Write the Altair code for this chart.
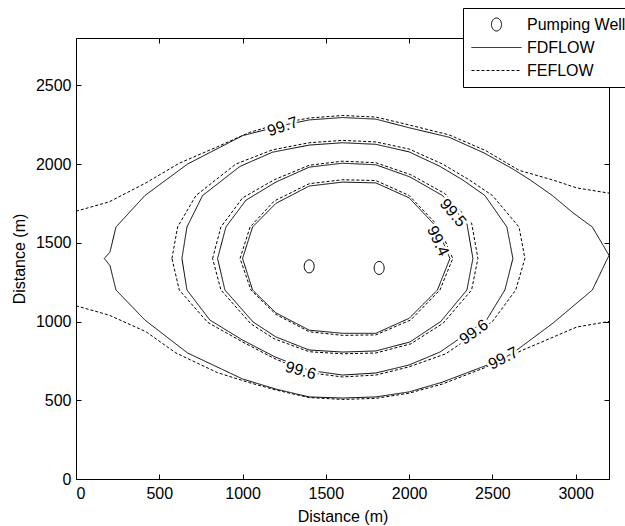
import altair as alt
import pandas as pd

FONT = "Liberation Sans"
FS = 16

X_DOMAIN = [0, 3200]
Y_DOMAIN = [0, 2800]
X_TICKS = [0, 500, 1000, 1500, 2000, 2500, 3000]
Y_TICKS = [0, 500, 1000, 1500, 2000, 2500]

SERIES = ["Pumping Well", "FDFLOW", "FEFLOW"]

# pumping wells
WELL_X = [1400, 1820]
WELL_Y = [1350, 1340]

# FDFLOW contours (solid)
FD_994 = [(1000, 1400), (1060, 1600), (1200, 1750), (1400, 1860), (1600, 1885), (1800, 1880),
          (2000, 1785), (2165, 1600), (2245, 1400), (2170, 1200), (2000, 1020), (1800, 925),
          (1600, 925), (1400, 945), (1200, 1055), (1060, 1200), (1000, 1400)]
FD_995 = [(850, 1400), (900, 1600), (1020, 1770), (1200, 1885), (1400, 1980), (1600, 2005),
          (1800, 1995), (2005, 1918), (2200, 1800), (2347, 1620), (2383, 1400), (2347, 1200),
          (2190, 1000), (2005, 870), (1800, 813), (1600, 806), (1400, 819), (1200, 902),
          (1063, 997), (894, 1200), (850, 1400)]
FD_996 = [(636, 1400), (666, 1600), (760, 1800), (985, 1985), (1180, 2075), (1400, 2120),
          (1600, 2135), (1800, 2125), (2000, 2077), (2185, 1985), (2320, 1900), (2455, 1800),
          (2587, 1600), (2623, 1400), (2575, 1200), (2465, 1010), (2185, 806), (2000, 724),
          (1800, 673), (1600, 660), (1400, 690), (1195, 775), (1000, 882), (804, 1009),
          (666, 1200), (636, 1400)]
FD_997 = [(170, 1400), (204, 1441), (240, 1600), (414, 1800), (670, 2000), (1000, 2180),
          (1240, 2245), (1400, 2280), (1600, 2295), (1800, 2285), (2000, 2230), (2240, 2170),
          (2450, 2070), (2620, 1970), (2725, 1900), (2860, 1800), (2984, 1690), (3100, 1600),
          (3200, 1420), (3100, 1200), (2864, 990), (2647, 819), (2560, 760), (2200, 615),
          (2000, 553), (1800, 521), (1600, 514), (1400, 521), (1200, 571), (1000, 635),
          (670, 800), (414, 1009), (240, 1200), (204, 1355), (170, 1400)]

# FEFLOW contours (dashed)
FE_994 = [(985, 1400), (1045, 1600), (1190, 1765), (1400, 1875), (1600, 1900), (1800, 1895),
          (2000, 1800), (2180, 1600), (2262, 1400), (2185, 1200), (2010, 1010), (1800, 915),
          (1600, 912), (1400, 935), (1200, 1045), (1050, 1200), (985, 1400)]
FE_995 = [(820, 1400), (870, 1600), (1000, 1785), (1190, 1900), (1400, 1992), (1600, 2018),
          (1800, 2008), (2010, 1932), (2215, 1812), (2375, 1625), (2413, 1400), (2375, 1200),
          (2205, 990), (2010, 858), (1800, 800), (1600, 795), (1400, 808), (1190, 890),
          (1050, 985), (870, 1200), (820, 1400)]
FE_996 = [(576, 1400), (610, 1600), (720, 1800), (960, 2000), (1180, 2090), (1400, 2135),
          (1600, 2150), (1800, 2140), (2000, 2095), (2200, 2000), (2360, 1900), (2500, 1800),
          (2660, 1600), (2695, 1400), (2640, 1200), (2500, 1000), (2220, 795), (2000, 712),
          (1800, 660), (1600, 648), (1400, 675), (1195, 763), (1000, 870), (790, 995),
          (620, 1200), (576, 1400)]
FE_997_UPPER = [(0, 1700), (200, 1760), (420, 1880), (620, 2005), (850, 2110), (1040, 2200),
                (1240, 2262), (1400, 2292), (1600, 2308), (1800, 2298), (2000, 2248), (2240, 2185),
                (2460, 2085), (2660, 1960), (2864, 1898), (3007, 1848), (3200, 1815)]
FE_997_LOWER = [(0, 1100), (200, 1040), (420, 935), (600, 800), (850, 675), (1040, 612),
                (1200, 565), (1400, 517), (1600, 505), (1800, 512), (2000, 545), (2200, 603),
                (2450, 705), (2683, 819), (3007, 965), (3200, 1000)]

# contour labels
LABEL_TEXT = ["99.7", "99.5", "99.4", "99.6", "99.7", "99.6"]
LABEL_X = [1241, 2263, 2173, 2389, 2565, 1349]
LABEL_Y = [2237, 1689, 1511, 933, 766, 688]
LABEL_ANGLE = [341, 50, 65, 324, 333, 16]

# ---- build tables ----
contours = [
    ("FDFLOW", "fd994", FD_994), ("FDFLOW", "fd995", FD_995),
    ("FDFLOW", "fd996", FD_996), ("FDFLOW", "fd997", FD_997),
    ("FEFLOW", "fe994", FE_994), ("FEFLOW", "fe995", FE_995),
    ("FEFLOW", "fe996", FE_996), ("FEFLOW", "fe997u", FE_997_UPPER),
    ("FEFLOW", "fe997l", FE_997_LOWER),
]
rows = []
for series, seg, pts in contours:
    for i, (x, y) in enumerate(pts):
        rows.append({"series": series, "seg": seg, "ord": i, "x": x, "y": y})
lines_df = pd.DataFrame(rows)

wells_df = pd.DataFrame({"x": WELL_X, "y": WELL_Y, "series": "Pumping Well"})
labels_df = pd.DataFrame({"x": LABEL_X, "y": LABEL_Y, "text": LABEL_TEXT, "angle": LABEL_ANGLE})

ELLIPSE = "M0.2,0A0.2,0.26,0,1,1,-0.2,0A0.2,0.26,0,1,1,0.2,0Z"

xs = alt.Scale(domain=X_DOMAIN, nice=False, zero=False)
ys = alt.Scale(domain=Y_DOMAIN, nice=False, zero=False)

legend = alt.Legend(
    title=None, orient="none", legendX=387, legendY=-30,
    strokeColor="black", fillColor="white", padding=8,
    symbolSize=2500, symbolStrokeWidth=1, symbolStrokeColor="black",
    symbolFillColor="white", labelFont=FONT, labelFontSize=FS,
    labelColor="black", labelOffset=5, rowPadding=6, clipHeight=17, cornerRadius=0,
)

axis_common = dict(
    tickSize=5, offset=-5, domain=False, grid=False, tickColor="black", format="d",
    labelFont=FONT, labelFontSize=FS, labelColor="black",
    titleFont=FONT, titleFontSize=FS, titleFontWeight="normal", titleColor="black",
)

x_bottom = alt.Axis(values=X_TICKS, title="Distance (m)", labelPadding=6, titlePadding=7,
                    orient="bottom", **axis_common)
y_left = alt.Axis(values=Y_TICKS, title="Distance (m)", labelPadding=5, titlePadding=8,
                  orient="left", **axis_common)
x_top = alt.Axis(values=X_TICKS, title=None, labels=False, orient="top", **axis_common)
y_right = alt.Axis(values=Y_TICKS, title=None, labels=False, orient="right", **axis_common)

lines = alt.Chart(lines_df).mark_line(color="black", strokeWidth=1).encode(
    x=alt.X("x:Q", scale=xs, axis=x_bottom),
    y=alt.Y("y:Q", scale=ys, axis=y_left),
    detail="seg:N",
    order="ord:Q",
    strokeDash=alt.StrokeDash("series:N", scale=alt.Scale(domain=SERIES, range=[[1, 0], [1, 0], [3, 2]]),
                              legend=legend),
)

wells = alt.Chart(wells_df).mark_point(size=2500, filled=False, color="black", strokeWidth=1, opacity=1).encode(
    x=alt.X("x:Q", scale=xs, axis=x_top),
    y=alt.Y("y:Q", scale=ys, axis=y_right),
    shape=alt.Shape("series:N", scale=alt.Scale(domain=SERIES, range=[ELLIPSE, "stroke", "stroke"]),
                    legend=legend),
)

halo = alt.Chart(labels_df).mark_text(font=FONT, fontSize=FS, fill="white", stroke="white",
                                      strokeWidth=5).encode(
    x=alt.X("x:Q", scale=xs, axis=None),
    y=alt.Y("y:Q", scale=ys, axis=None),
    text="text:N",
    angle=alt.Angle("angle:Q", scale=None),
)
labels = alt.Chart(labels_df).mark_text(font=FONT, fontSize=FS, fill="black").encode(
    x=alt.X("x:Q", scale=xs, axis=None),
    y=alt.Y("y:Q", scale=ys, axis=None),
    text="text:N",
    angle=alt.Angle("angle:Q", scale=None),
)

chart = alt.layer(lines, wells, halo, labels).properties(
    width=533, height=441,
    autosize=alt.AutoSizeParams(type="none"),
    padding={"left": 76, "top": 38, "right": 16, "bottom": 47},
    background="white",
).configure_view(stroke="black", strokeWidth=1)

chart.save("out.html", embed_options={"renderer": "svg", "actions": False})
